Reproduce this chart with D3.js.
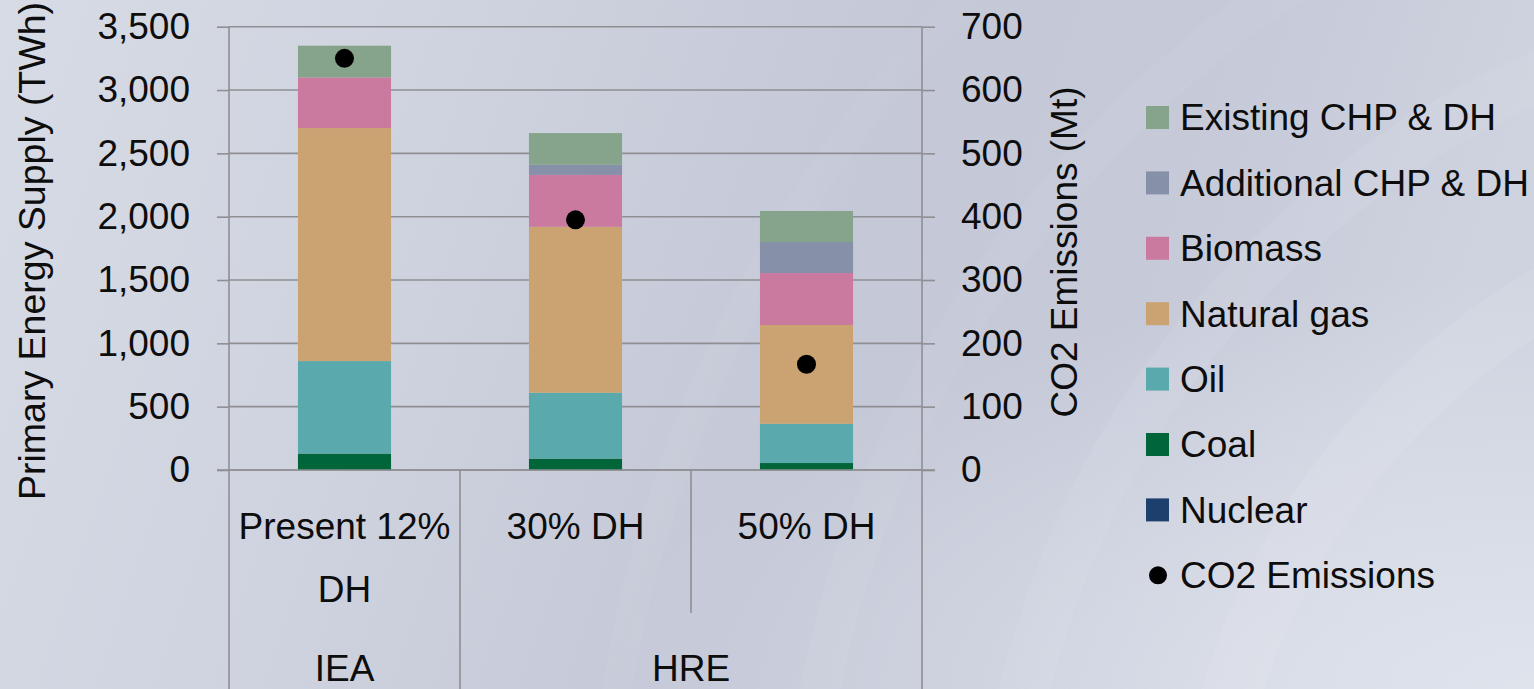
<!DOCTYPE html>
<html>
<head>
<meta charset="utf-8">
<script src="https://cdn.jsdelivr.net/npm/d3@7"></script>
<style>
  html, body { margin: 0; padding: 0; overflow: hidden; }
  svg { display: block; }
  text { font-family: "Liberation Sans", Arial, sans-serif; fill: #0d0d0d; }
</style>
</head>
<body>
<svg id="chart" width="1534" height="689"></svg>
<script>
// Scenario categories and their group labels
const categories = ["Present 12% DH", "30% DH", "50% DH"];
const categoryLines = [["Present 12%", "DH"], ["30% DH"], ["50% DH"]];
const groups = ["IEA", "HRE"];
const groupSpans = [[0, 0], [1, 2]];

// Primary energy supply by source (TWh), bottom to top of each stack
const nuclear = [0, 0, 0];
const coal = [130, 90, 55];
const oil = [730, 520, 310];
const naturalGas = [1840, 1310, 780];
const biomass = [400, 410, 410];
const additionalCHP = [0, 80, 245];
const existingCHP = [250, 250, 245];

// CO2 emissions (Mt), right axis
const co2 = [650, 395, 167];

// Axis ticks
const leftTicks = [0, 500, 1000, 1500, 2000, 2500, 3000, 3500];
const rightTicks = [0, 100, 200, 300, 400, 500, 600, 700];

const seriesKeys = ["Nuclear", "Coal", "Oil", "Natural gas", "Biomass", "Additional CHP & DH", "Existing CHP & DH"];
const seriesValues = [nuclear, coal, oil, naturalGas, biomass, additionalCHP, existingCHP];
const colors = {
  "Nuclear": "#1c3f6d",
  "Coal": "#006538",
  "Oil": "#5aa9ad",
  "Natural gas": "#cba272",
  "Biomass": "#c97a9e",
  "Additional CHP & DH": "#8790a9",
  "Existing CHP & DH": "#86a38b"
};
const legendOrder = ["Existing CHP & DH", "Additional CHP & DH", "Biomass", "Natural gas", "Oil", "Coal", "Nuclear"];

const W = 1534, H = 689;
const plot = { left: 229, right: 922, top: 26.7, bottom: 470 };
const svg = d3.select("#chart");
const fs = 37;

// ---- background ----
const defs = svg.append("defs");
const lg = defs.append("linearGradient").attr("id", "bg").attr("x1", 0).attr("y1", 0).attr("x2", 1).attr("y2", 0.15);
[["0%", "#d7dbe5"], ["30%", "#cfd3df"], ["60%", "#c4c8d7"], ["78%", "#c5c9d8"], ["100%", "#cfd3df"]]
  .forEach(([o, c]) => lg.append("stop").attr("offset", o).attr("stop-color", c));
const rg = defs.append("radialGradient").attr("id", "glow").attr("cx", 1).attr("cy", 1).attr("r", 0.6);
rg.append("stop").attr("offset", "0%").attr("stop-color", "#dfe3ec").attr("stop-opacity", 1);
rg.append("stop").attr("offset", "100%").attr("stop-color", "#dfe3ec").attr("stop-opacity", 0);
svg.append("rect").attr("width", W).attr("height", H).attr("fill", "url(#bg)");
svg.append("rect").attr("width", W).attr("height", H).attr("fill", "url(#glow)");
// faint sweeping arcs on the right side
const arcs = svg.append("g").attr("fill", "none").attr("stroke", "#ffffff");
[[1900, 900, 700, 0.08, 60], [1900, 900, 900, 0.06, 50], [1900, 900, 1100, 0.05, 40], [1900, 900, 1300, 0.04, 30]]
  .forEach(([cx, cy, r, op, w]) => arcs.append("circle").attr("cx", cx).attr("cy", cy).attr("r", r)
    .attr("stroke-opacity", op).attr("stroke-width", w));

// ---- scales ----
const x = d3.scaleBand().domain(categories).range([plot.left, plot.right]).paddingInner(0.597).paddingOuter(0.2985);
const y = d3.scaleLinear().domain([0, 3500]).range([plot.bottom, plot.top]);
const y2 = d3.scaleLinear().domain([0, 700]).range([plot.bottom, plot.top]);

const gridColor = "#8f8f93";

// gridlines
svg.append("g").selectAll("line").data(leftTicks).join("line")
  .attr("x1", plot.left).attr("x2", plot.right)
  .attr("y1", d => y(d)).attr("y2", d => y(d))
  .attr("stroke", gridColor).attr("stroke-width", 1.6);

// stacked bars
const rows = categories.map((c, i) => {
  const r = { category: c };
  seriesKeys.forEach((k, j) => r[k] = seriesValues[j][i]);
  return r;
});
const stack = d3.stack().keys(seriesKeys)(rows);
svg.append("g").selectAll("g").data(stack).join("g")
  .attr("fill", d => colors[d.key])
  .selectAll("rect").data(d => d).join("rect")
  .attr("x", d => x(d.data.category))
  .attr("width", x.bandwidth())
  .attr("y", d => y(d[1]))
  .attr("height", d => Math.max(0, y(d[0]) - y(d[1])));

// CO2 markers
svg.append("g").selectAll("circle").data(co2).join("circle")
  .attr("cx", (d, i) => x(categories[i]) + x.bandwidth() / 2)
  .attr("cy", d => y2(d))
  .attr("r", 9.5).attr("fill", "#000");

// ---- axes ----
const leftAxis = svg.append("g").attr("transform", `translate(${plot.left},0)`)
  .call(d3.axisLeft(y).tickValues(leftTicks).tickFormat(d3.format(",")).tickSize(12).tickSizeOuter(0).tickPadding(27));
const rightAxis = svg.append("g").attr("transform", `translate(${plot.right},0)`)
  .call(d3.axisRight(y2).tickValues(rightTicks).tickSize(13).tickSizeOuter(0).tickPadding(26));
[leftAxis, rightAxis].forEach(a => {
  a.select(".domain").remove();
  a.selectAll(".tick line").attr("stroke", gridColor).attr("stroke-width", 1.6);
  a.selectAll(".tick text").attr("font-size", fs).attr("font-family", "Liberation Sans, Arial, sans-serif").attr("fill", "#0d0d0d");
});

// category axis: baseline and vertical separators
const catLines = svg.append("g").attr("stroke", gridColor).attr("stroke-width", 1.6);
catLines.append("line").attr("x1", plot.left - 12).attr("x2", plot.right + 13).attr("y1", plot.bottom).attr("y2", plot.bottom);
const step = x.step();
const boundaries = d3.range(categories.length + 1).map(i => plot.left + i * step);
boundaries.forEach((bx, i) => {
  const isGroupEdge = i === 0 || i === categories.length || groupSpans.some(s => s[0] === i);
  catLines.append("line").attr("x1", bx).attr("x2", bx)
    .attr("y1", i === 0 || i === categories.length ? plot.top : plot.bottom)
    .attr("y2", isGroupEdge ? H : 613);
});

// category labels
categoryLines.forEach((lines, i) => {
  const cx = x(categories[i]) + x.bandwidth() / 2;
  lines.forEach((t, j) => {
    svg.append("text").attr("x", cx).attr("y", 526 + j * 63).attr("dy", "0.35em")
      .attr("text-anchor", "middle").attr("font-size", fs).text(t);
  });
});
// group labels
groups.forEach((g, i) => {
  const [a, b] = groupSpans[i];
  const cx = (boundaries[a] + boundaries[b + 1]) / 2;
  svg.append("text").attr("x", cx).attr("y", 668).attr("dy", "0.35em")
    .attr("text-anchor", "middle").attr("font-size", fs).text(g);
});

// axis titles
svg.append("text").attr("transform", `translate(32,251) rotate(-90)`).attr("dy", "0.35em")
  .attr("text-anchor", "middle").attr("font-size", 37.5).text("Primary Energy Supply (TWh)");
svg.append("text").attr("transform", `translate(1064,252) rotate(-90)`).attr("dy", "0.35em")
  .attr("text-anchor", "middle").attr("font-size", fs).text("CO2 Emissions (Mt)");

// ---- legend ----
const legend = svg.append("g");
const legendY0 = 117.5, legendStep = 65.4;
legendOrder.forEach((k, i) => {
  const ly = legendY0 + i * legendStep;
  legend.append("rect").attr("x", 1146).attr("y", ly - 11.5).attr("width", 23).attr("height", 23).attr("fill", colors[k]);
  legend.append("text").attr("x", 1180).attr("y", ly).attr("dy", "0.35em").attr("font-size", fs).text(k);
});
const ly = legendY0 + legendOrder.length * legendStep;
legend.append("circle").attr("cx", 1158).attr("cy", ly).attr("r", 9).attr("fill", "#000");
legend.append("text").attr("x", 1180).attr("y", ly).attr("dy", "0.35em").attr("font-size", fs).text("CO2 Emissions");
</script>
</body>
</html>
